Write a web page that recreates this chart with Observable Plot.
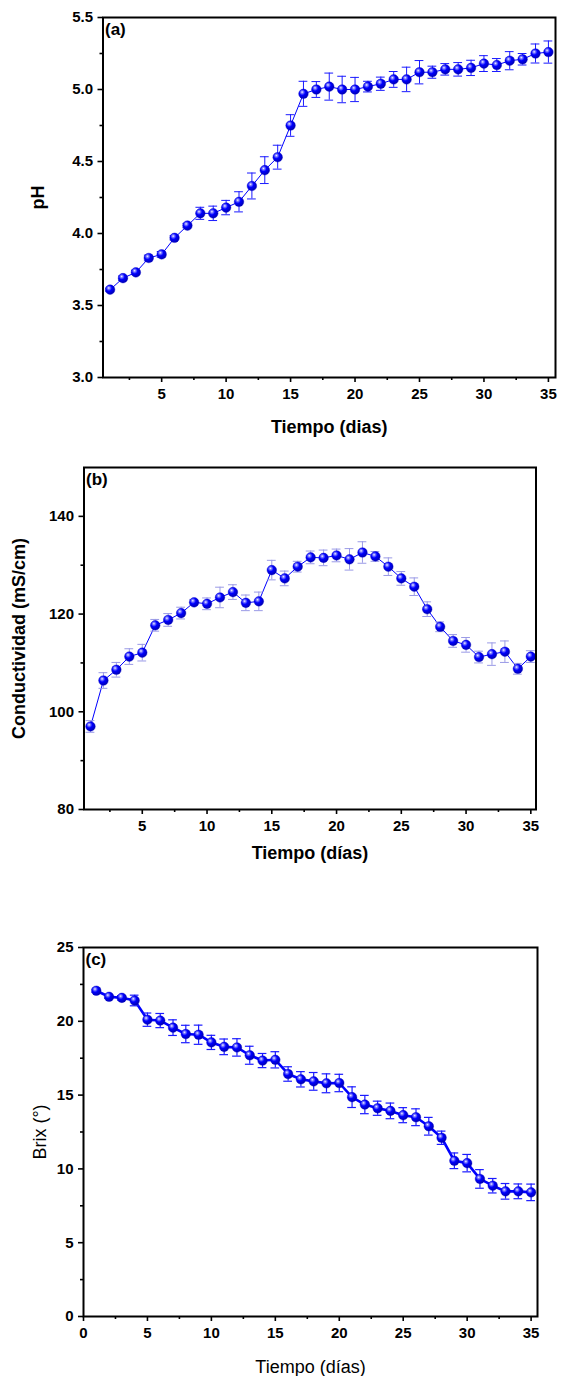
<!DOCTYPE html>
<html>
<head>
<meta charset="utf-8">
<script src="https://cdn.jsdelivr.net/npm/d3@7"></script>
<script src="https://cdn.jsdelivr.net/npm/@observablehq/plot@0.6"></script>
<style>
  html, body { margin: 0; padding: 0; background: #fff; }
  #root { width: 561px; }
  #root svg { display: block; }
</style>
</head>
<body>
<div id="root"></div>
<script>
// ---- data ----
const days = [1,2,3,4,5,6,7,8,9,10,11,12,13,14,15,16,17,18,19,20,21,22,23,24,25,26,27,28,29,30,31,32,33,34,35];

const ph = [3.61,3.69,3.73,3.83,3.855,3.97,4.055,4.14,4.14,4.18,4.22,4.33,4.44,4.53,4.75,4.97,5.00,5.02,5.00,5.00,5.02,5.04,5.07,5.07,5.12,5.12,5.14,5.14,5.15,5.18,5.17,5.20,5.21,5.25,5.26];
const phErr = [0.01,0.015,0.015,0.02,0.02,0.015,0.015,0.042,0.05,0.05,0.07,0.09,0.093,0.083,0.075,0.087,0.055,0.094,0.092,0.084,0.037,0.046,0.055,0.085,0.081,0.042,0.04,0.047,0.053,0.055,0.045,0.063,0.04,0.066,0.077];

const cond = [97.0,106.4,108.6,111.3,112.1,117.7,118.8,120.2,122.4,122.1,123.4,124.5,122.3,122.6,129.0,127.3,129.7,131.6,131.5,132.0,131.2,132.6,131.8,129.7,127.3,125.6,121.0,117.4,114.5,113.7,111.2,111.8,112.3,108.8,111.3];
const condErr = [1.2,1.6,1.5,1.6,1.7,1.2,1.3,1.2,0.6,1.2,2.1,1.5,1.6,1.9,2.0,1.5,1.1,1.3,1.6,1.3,2.2,2.2,1.0,1.8,1.4,1.8,1.5,1.0,1.3,1.5,1.2,2.3,2.2,1.1,1.2];

const brix = [22.07,21.66,21.59,21.41,20.11,20.05,19.57,19.14,19.09,18.57,18.27,18.23,17.70,17.34,17.39,16.43,16.07,15.93,15.80,15.82,14.86,14.36,14.11,13.93,13.64,13.50,12.89,12.11,10.55,10.39,9.32,8.86,8.48,8.48,8.41];
const brixErr = [0.1,0.1,0.15,0.36,0.45,0.48,0.53,0.59,0.65,0.48,0.53,0.59,0.61,0.48,0.55,0.49,0.52,0.6,0.64,0.59,0.7,0.62,0.48,0.53,0.51,0.57,0.6,0.45,0.53,0.59,0.63,0.49,0.53,0.5,0.56];

const xTicksA = [5,10,15,20,25,30,35];
const xMinorA = [2.5,7.5,12.5,17.5,22.5,27.5,32.5];
const yTicksA = [3.0,3.5,4.0,4.5,5.0,5.5];
const yMinorA = [3.25,3.75,4.25,4.75,5.25];
const yTicksB = [80,100,120,140];
const yMinorB = [90,110,130];
const xTicksC = [0,5,10,15,20,25,30,35];
const xMinorC = [2.5,7.5,12.5,17.5,22.5,27.5,32.5];
const yTicksC = [0,5,10,15,20,25];
const yMinorC = [2.5,7.5,12.5,17.5,22.5];

const FONT = "'Liberation Sans', Arial, Helvetica, sans-serif";

function rowsOf(vals, errs) {
  return days.map((d, i) => ({x: d, y: vals[i], lo: vals[i] - errs[i], hi: vals[i] + errs[i]}));
}

function addGradient(svg) {
  const ns = "http://www.w3.org/2000/svg";
  const defs = document.createElementNS(ns, "defs");
  defs.innerHTML = `
    <radialGradient id="ball" cx="38%" cy="36%" r="62%" fx="36%" fy="32%">
      <stop offset="0%" stop-color="#f4f4ff"/>
      <stop offset="20%" stop-color="#8080ff"/>
      <stop offset="50%" stop-color="#0000ff"/>
      <stop offset="100%" stop-color="#0000b8"/>
    </radialGradient>`;
  svg.insertBefore(defs, svg.firstChild);
  return svg;
}

function panel(o) {
  const rows = rowsOf(o.vals, o.errs);
  const capW = 0.34;
  const svg = Plot.plot({
    width: 561,
    height: o.height,
    marginTop: o.mt, marginBottom: o.mb, marginLeft: o.ml, marginRight: o.mr,
    style: {fontFamily: FONT, fontSize: "15px", fontWeight: "bold", color: "#000", background: "#fff", overflow: "visible"},
    x: {domain: o.xDomain, label: null},
    y: {domain: o.yDomain, label: null},
    marks: [
      Plot.axisX({ticks: o.xTicks, tickSize: 5, tickPadding: 6, strokeWidth: 1.6, label: null, fontSize: 15, fontWeight: "bold"}),
      Plot.axisX({ticks: o.xMinor, tickSize: 3, strokeWidth: 1.6, tickFormat: () => "", label: null}),
      Plot.axisY({ticks: o.yTicks, tickSize: 5, tickPadding: 5, strokeWidth: 1.6, label: null, tickFormat: o.yFormat, fontSize: 15, fontWeight: "bold"}),
      Plot.axisY({ticks: o.yMinor, tickSize: 3, strokeWidth: 1.6, tickFormat: () => "", label: null}),
      Plot.line(rows, {x: "x", y: "y", stroke: "#0000ff", strokeWidth: o.lineW}),
      Plot.ruleX(rows, {x: "x", y1: "lo", y2: "hi", stroke: o.errColor, strokeWidth: o.errW}),
      Plot.ruleY(rows, {y: "hi", x1: d => d.x - capW, x2: d => d.x + capW, stroke: o.errColor, strokeWidth: o.errW}),
      Plot.ruleY(rows, {y: "lo", x1: d => d.x - capW, x2: d => d.x + capW, stroke: o.errColor, strokeWidth: o.errW}),
      Plot.dot(rows, {x: "x", y: "y", r: 4.8, fill: "url(#ball)", stroke: "#0000c8", strokeWidth: 0.4}),
      Plot.frame({stroke: "#000", strokeWidth: 2}),
      Plot.text([o.tag], {frameAnchor: "top-left", dx: 2, dy: 12, textAnchor: "start", lineAnchor: "middle", fontSize: 17, fontWeight: "bold", fill: "#000"}),
      Plot.text([o.xTitle], {frameAnchor: "bottom", dy: o.xTitleDy, textAnchor: "middle", lineAnchor: "middle", fontSize: 18, fontWeight: o.titleWeight, fill: "#000"}),
      Plot.text([o.yTitle], {frameAnchor: "left", dx: o.yTitleDx, rotate: -90, textAnchor: "middle", lineAnchor: "middle", fontSize: 18, fontWeight: o.titleWeight, fill: "#000"})
    ]
  });
  return addGradient(svg);
}

const root = document.getElementById("root");

root.appendChild(panel({
  vals: ph, errs: phErr, height: 450, mt: 17, mb: 73, ml: 102.5, mr: 6,
  xDomain: [0.45, 35.55], yDomain: [3, 5.5],
  xTicks: xTicksA, xMinor: xMinorA, yTicks: yTicksA, yMinor: yMinorA, yFormat: d3.format(".1f"),
  lineW: 1, errColor: "#1a1aff", errW: 1,
  tag: "(a)", xTitle: "Tiempo (dias)", xTitleDy: 50, yTitle: "pH", yTitleDx: -65, titleWeight: "bold"
}));

root.appendChild(panel({
  vals: cond, errs: condErr, height: 450, mt: 17, mb: 91, ml: 83.5, mr: 25.5,
  xDomain: [0.5, 35.4], yDomain: [80, 150],
  xTicks: xTicksA, xMinor: xMinorA, yTicks: yTicksB, yMinor: yMinorB, yFormat: d3.format("d"),
  lineW: 1, errColor: "#9a9ae6", errW: 1,
  tag: "(b)", xTitle: "Tiempo (días)", xTitleDy: 44, yTitle: "Conductividad (mS/cm)", yTitleDx: -65, titleWeight: "bold"
}));

root.appendChild(panel({
  vals: brix, errs: brixErr, height: 476, mt: 47, mb: 60, ml: 83, mr: 24,
  xDomain: [0, 35.5], yDomain: [0, 25],
  xTicks: xTicksC, xMinor: xMinorC, yTicks: yTicksC, yMinor: yMinorC, yFormat: d3.format("d"),
  lineW: 2.6, errColor: "#1a1aff", errW: 1.2,
  tag: "(c)", xTitle: "Tiempo (días)", xTitleDy: 51, yTitle: "Brix (°)", yTitleDx: -43, titleWeight: "normal"
}));
</script>
</body>
</html>
